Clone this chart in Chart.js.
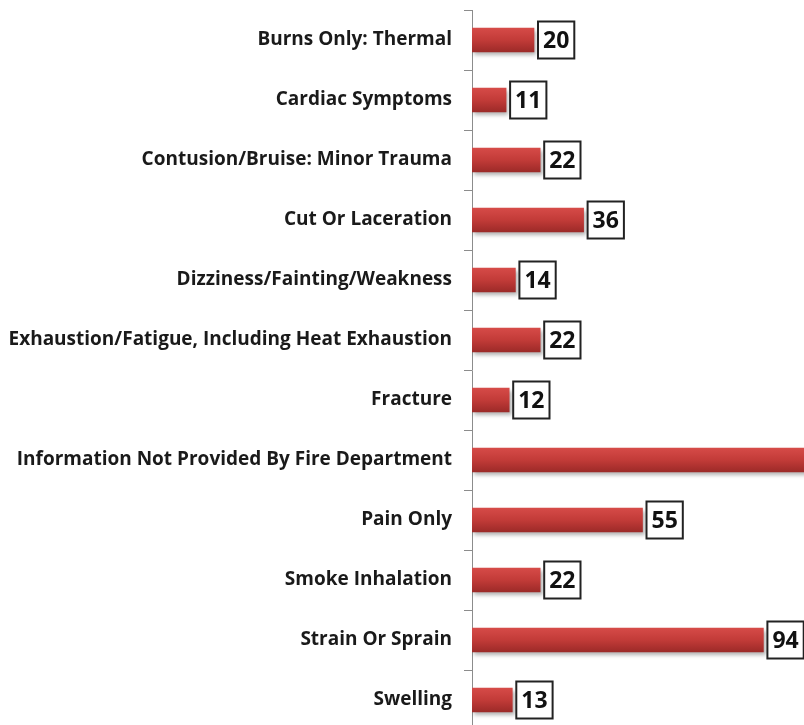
<!DOCTYPE html>
<html>
<head>
<meta charset="utf-8">
<script src="https://cdn.jsdelivr.net/npm/chart.js@4"></script>
<style>
html,body{margin:0;padding:0;background:#fff;overflow:hidden;width:804px;height:725px;}
#wrap{position:absolute;left:0;top:0;width:906px;height:740px;}
</style>
</head>
<body>
<div id="wrap"><canvas id="c" width="906" height="740"></canvas></div>
<script>
const categories = [
  "Burns Only: Thermal",
  "Cardiac Symptoms",
  "Contusion/Bruise: Minor Trauma",
  "Cut Or Laceration",
  "Dizziness/Fainting/Weakness",
  "Exhaustion/Fatigue, Including Heat Exhaustion",
  "Fracture",
  "Information Not Provided By Fire Department",
  "Pain Only",
  "Smoke Inhalation",
  "Strain Or Sprain",
  "Swelling"
];
const values = [20, 11, 22, 36, 14, 22, 12, 120, 55, 22, 94, 13];
const valueLabels = ["20","11","22","36","14","22","12","120","55","22","94","13"];

const FONT = "'Open Sans', 'Liberation Sans', sans-serif";

function barFill(ctx) {
  const chart = ctx.chart;
  const y = chart.scales && chart.scales.y;
  if (!y || ctx.dataIndex === undefined) return '#c03a38';
  const cy = y.getPixelForValue(ctx.dataIndex);
  if (!isFinite(cy)) return '#c03a38';
  const g = chart.ctx.createLinearGradient(0, cy - 12, 0, cy + 12);
  g.addColorStop(0, '#d64b48');
  g.addColorStop(0.5, '#c23b38');
  g.addColorStop(1, '#9c2a28');
  return g;
}

const shadowPlugin = {
  id: 'shadow',
  beforeDatasetsDraw(chart) {
    const c = chart.ctx;
    c.save();
    c.shadowColor = 'rgba(0,0,0,0.30)';
    c.shadowBlur = 4;
    c.shadowOffsetX = 2;
    c.shadowOffsetY = 3;
  },
  afterDatasetsDraw(chart) {
    chart.ctx.restore();
  }
};

const labelPlugin = {
  id: 'boxLabels',
  afterDatasetsDraw(chart) {
    const c = chart.ctx;
    const meta = chart.getDatasetMeta(0);
    c.save();
    c.font = "bold 23px " + FONT;
    c.textBaseline = 'middle';
    c.textAlign = 'left';
    meta.data.forEach((bar, i) => {
      const txt = valueLabels[i];
      const tw = c.measureText(txt).width;
      const bx = bar.x + 4;
      const bw = tw + 10;
      const bh = 37;
      const by = bar.y - bh / 2;
      c.fillStyle = '#fff';
      c.fillRect(bx, by, bw, bh);
      c.lineWidth = 2;
      c.strokeStyle = '#222';
      c.strokeRect(bx, by, bw, bh);
      c.fillStyle = '#111';
      c.fillText(txt, bx + 5, bar.y + 1);
    });
    c.restore();
  }
};

new Chart(document.getElementById('c'), {
  type: 'bar',
  data: {
    labels: categories,
    datasets: [{
      data: values,
      backgroundColor: barFill,
      borderWidth: 0,
      barThickness: 24
    }]
  },
  options: {
    indexAxis: 'y',
    responsive: false,
    animation: false,
    layout: { padding: { left: 0, right: 0, top: 10, bottom: 10 } },
    plugins: { legend: { display: false }, tooltip: { enabled: false } },
    scales: {
      x: {
        display: false,
        min: 0,
        max: 140
      },
      y: {
        afterFit(scale) { scale.width = 472; scale.paddingTop = 0; scale.paddingBottom = 0; },
        border: { display: true, color: '#8c8c8c', width: 1 },
        grid: { display: true, drawOnChartArea: false, drawTicks: true, tickLength: 8, color: '#8c8c8c', offset: true },
        ticks: {
          color: '#1a1a1a',
          padding: 12,
          font: { family: FONT, size: 19, weight: 'bold' }
        }
      }
    }
  },
  plugins: [shadowPlugin, labelPlugin]
});
</script>
</body>
</html>
